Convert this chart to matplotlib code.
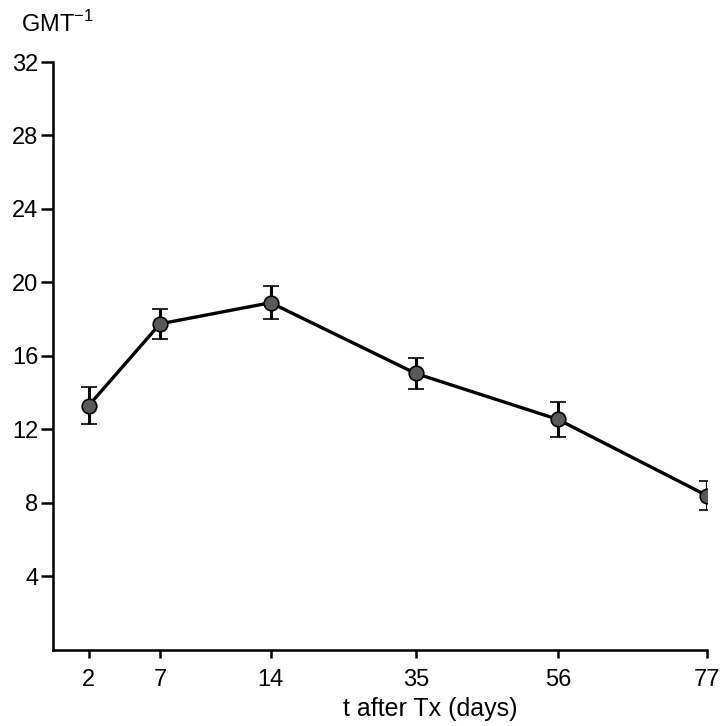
import matplotlib
matplotlib.use("Agg")
import matplotlib.pyplot as plt

plt.rcParams['font.family'] = ['Liberation Sans', 'DejaVu Sans']

days = ["2", "7", "14", "35", "56", "77"]
x_pos = [0.6, 1.8, 3.66, 6.1, 8.49, 11.0]
gmt = [13.3, 17.75, 18.9, 15.05, 12.55, 8.4]
err = [1.0, 0.8, 0.9, 0.85, 0.95, 0.8]
y_ticks = [4, 8, 12, 16, 20, 24, 28, 32]

fig = plt.figure(figsize=(7.23, 7.26), dpi=100)
ax = fig.add_axes([0.0733, 0.1047, 0.9047, 0.8099])

ax.errorbar(x_pos, gmt, yerr=err, color='black', lw=2.4, elinewidth=2.2,
            capsize=5.5, capthick=2.4, marker='o', markersize=10.5,
            markerfacecolor='#5a5a5a', markeredgecolor='black', markeredgewidth=1.2,
            zorder=3)

ax.set_xlim(0, 11.0)
ax.set_ylim(0, 32)
ax.set_xticks(x_pos)
ax.set_xticklabels(days)
ax.set_yticks(y_ticks)
ax.set_yticklabels([str(t) for t in y_ticks])

for s in ['top', 'right']:
    ax.spines[s].set_visible(False)
for s in ['left', 'bottom']:
    ax.spines[s].set_linewidth(1.8)

ax.tick_params(axis='both', direction='out', width=1.8, labelsize=17)
ax.tick_params(axis='x', length=6, pad=8)
ax.tick_params(axis='y', length=9, pad=1.5)

ax.set_xlabel("t after Tx (days)", fontsize=18, labelpad=4, x=0.576)
fig.text(0.029, 0.967, "GMT$^{\\mathregular{-1}}$", fontsize=17, ha='left', va='center')

fig.savefig("out.png", dpi=100)
